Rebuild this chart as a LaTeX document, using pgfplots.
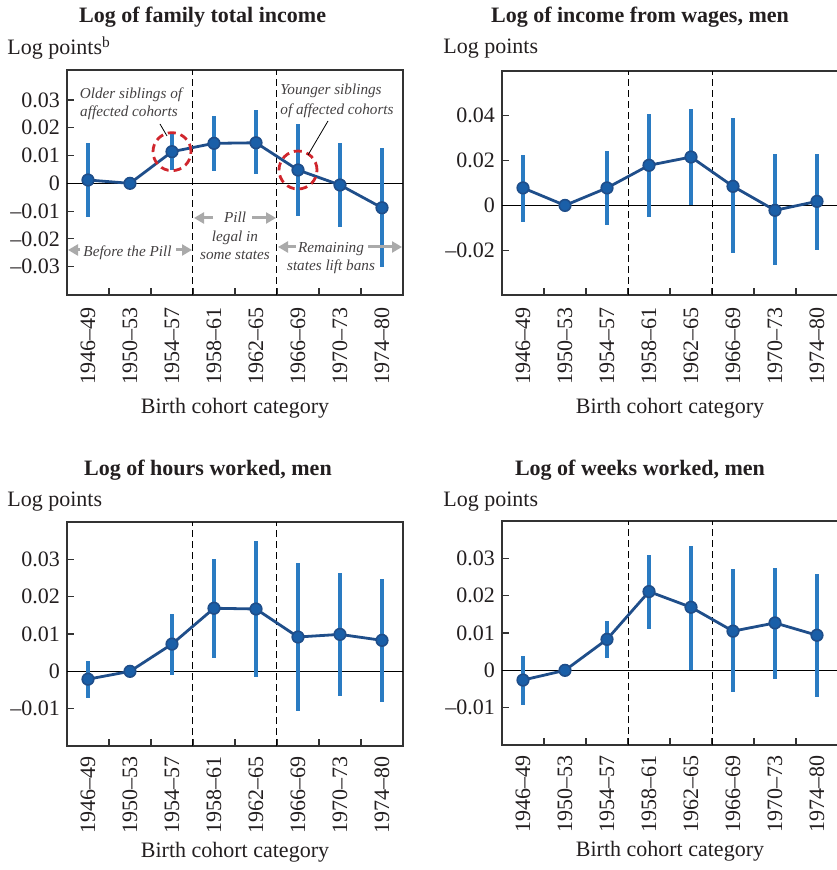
\documentclass[border=0pt]{standalone}
\usepackage{fontspec}
\setmainfont{Liberation Serif}
\usepackage{pgfplots}
\pgfplotsset{compat=1.18}
\usepackage{pgfplotstable}
\usetikzlibrary{arrows.meta}

\definecolor{lineblue}{HTML}{1F4E8A}
\definecolor{dotblue}{HTML}{1A5FA8}
\definecolor{barblue}{HTML}{2A7BC2}
\definecolor{circred}{HTML}{D0262D}
\definecolor{arrowgray}{HTML}{AAAAAA}
\definecolor{framegray}{HTML}{333333}
\definecolor{inkblack}{HTML}{231F20}

% Estimates by birth cohort: point estimate and confidence bounds
\pgfplotstableread{
x    y       lo       hi
0.5  0.0012  -0.0120  0.0144
1.5  0.0000  0.0000   0.0000
2.5  0.0114  0.0048   0.0180
3.5  0.0144  0.0044   0.0242
4.5  0.0146  0.0032   0.0264
5.5  0.0048  -0.0118  0.0213
6.5  -0.0006 -0.0156  0.0144
7.5  -0.0088 -0.0300  0.0128
}\famincome

\pgfplotstableread{
x    y       lo       hi
0.5  0.0078  -0.0072  0.0227
1.5  0.0000  0.0000   0.0000
2.5  0.0078  -0.0087  0.0245
3.5  0.0179  -0.0054  0.0410
4.5  0.0216  0.0000   0.0430
5.5  0.0085  -0.0213  0.0388
6.5  -0.0022 -0.0266  0.0231
7.5  0.0018  -0.0201  0.0231
}\wages

\pgfplotstableread{
x    y       lo       hi
0.5  -0.0021 -0.0071  0.0029
1.5  0.0000  0.0000   0.0000
2.5  0.0073  -0.0011  0.0154
3.5  0.0169  0.0036   0.0300
4.5  0.0167  -0.0015  0.0348
5.5  0.0092  -0.0106  0.0290
6.5  0.0099  -0.0067  0.0263
7.5  0.0083  -0.0083  0.0247
}\hours

\pgfplotstableread{
x    y       lo       hi
0.5  -0.0026 -0.0094  0.0038
1.5  0.0000  0.0000   0.0000
2.5  0.0083  0.0032   0.0132
3.5  0.0211  0.0111   0.0309
4.5  0.0169  0.0002   0.0333
5.5  0.0105  -0.0059  0.0272
6.5  0.0127  -0.0023  0.0275
7.5  0.0094  -0.0072  0.0259
}\weeks

\pgfplotsset{
  panel/.style={
    scale only axis, width=168pt, height=112pt, anchor=south west,
    xmin=0, xmax=8,
    scaled y ticks=false,
    xtick={0.5,1.5,2.5,3.5,4.5,5.5,6.5,7.5},
    xticklabels={1946--49,1950--53,1954--57,1958--61,1962--65,1966--69,1970--73,1974--80},
    x tick label style={rotate=90, anchor=east},
    xticklabel shift=2.5pt,
    minor xtick={1,2,3,4,5,6,7},
    major x tick style={draw=none},
    tick align=inside, tick pos=left,
    major tick length=3.5pt, minor tick length=3.5pt,
    tick style={framegray, line width=0.6pt},
    axis line style={framegray, line width=0.65pt},
    xlabel={Birth cohort category},
    xlabel style={yshift=0pt},
    every tick label/.append style={inkblack},
    every axis label/.append style={inkblack},
    clip=false,
  },
  lowpanel/.style={panel, xticklabel shift=1.5pt, xlabel style={yshift=2.5pt}},
}

% zero line and the two policy boundaries
\newcommand{\guides}{%
  \draw[black, line width=0.5pt] (axis cs:0,0) -- (axis cs:8,0);
  \draw[black, line width=0.5pt, dash pattern=on 3.5pt off 2pt]
    ({axis cs:3,0} |- {rel axis cs:0,0}) -- ({axis cs:3,0} |- {rel axis cs:0,1});
  \draw[black, line width=0.5pt, dash pattern=on 3.5pt off 2pt]
    ({axis cs:5,0} |- {rel axis cs:0,0}) -- ({axis cs:5,0} |- {rel axis cs:0,1});
}

% confidence intervals, then the connected point estimates
\newcommand{\series}[1]{%
  \addplot[only marks, mark=none,
    error bars/.cd, y dir=both, y explicit, error mark=none,
    error bar style={barblue, line width=1.6pt}]
    table[x=x, y=y, y error plus expr=\thisrow{hi}-\thisrow{y},
          y error minus expr=\thisrow{y}-\thisrow{lo}] {#1};
  \addplot[lineblue, line width=1.4pt, mark=*, mark size=2.9pt,
    mark options={fill=dotblue, draw=lineblue, line width=0.8pt}]
    table[x=x, y=y] {#1};
}

\begin{document}
\begin{tikzpicture}[font=\fontsize{11}{13}\selectfont]
% page frame: the right-hand panels run just past its edge
\useasboundingbox (0pt,0pt) rectangle (418pt,-435pt);

% ---------- Log of family total income ----------
\begin{axis}[panel, at={(33.5pt,-147.5pt)}, height=112.5pt,
  ymin=-0.0402, ymax=0.0408,
  ytick={-0.03,-0.02,-0.01,0,0.01,0.02,0.03},
  yticklabels={\textendash0.03,\textendash0.02,\textendash0.01,0,0.01,0.02,0.03}]
  \guides
  \series{\famincome}
  \draw[circred, line width=1.4pt, dash pattern=on 4pt off 2.5pt]
    (axis cs:2.5,0.0114) circle[radius=9.5pt];
  \draw[circred, line width=1.4pt, dash pattern=on 4pt off 2.5pt]
    (axis cs:5.5,0.0048) circle[radius=9.5pt];
\end{axis}

% ---------- Log of income from wages, men ----------
\begin{axis}[panel, at={(251pt,-147.5pt)},
  ymin=-0.04, ymax=0.06,
  ytick={-0.02,0,0.02,0.04},
  yticklabels={\textendash0.02,0,0.02,0.04}]
  \guides
  \series{\wages}
\end{axis}

% ---------- Log of hours worked, men ----------
\begin{axis}[lowpanel, at={(33.5pt,-373pt)},
  ymin=-0.02, ymax=0.04,
  ytick={-0.01,0,0.01,0.02,0.03},
  yticklabels={\textendash0.01,0,0.01,0.02,0.03}]
  \guides
  \series{\hours}
\end{axis}

% ---------- Log of weeks worked, men ----------
\begin{axis}[lowpanel, at={(251pt,-372.5pt)},
  ymin=-0.02, ymax=0.04,
  ytick={-0.01,0,0.01,0.02,0.03},
  yticklabels={\textendash0.01,0,0.01,0.02,0.03}]
  \guides
  \series{\weeks}
\end{axis}

% titles, units and annotations
\begin{scope}[x=0.5pt, y=-0.5pt, every node/.style={inner sep=0pt, text=inkblack}]
  \node[anchor=base, font=\fontsize{11}{13}\selectfont\bfseries] at (202.6,22.7) {Log of family total income};
  \node[anchor=base, font=\fontsize{11}{13}\selectfont\bfseries] at (640,22.7) {Log of income from wages, men};
  \node[anchor=base, font=\fontsize{11}{13}\selectfont\bfseries] at (208,475) {Log of hours worked, men};
  \node[anchor=base, font=\fontsize{11}{13}\selectfont\bfseries] at (640,475) {Log of weeks worked, men};

  \node[anchor=base west] at (7,55) {Log points\textsuperscript{b}};
  \node[anchor=base west] at (443,54) {Log points};
  \node[anchor=base west] at (7,506) {Log points};
  \node[anchor=base west] at (443,506) {Log points};

  \colorlet{notegray}{inkblack!85}
  \begin{scope}[every node/.append style={font=\fontsize{7.6}{9}\selectfont\itshape, text=notegray}]
    \node[anchor=base] at (131,98.3) {Older siblings of};
    \node[anchor=base] at (129,116.7) {affected cohorts};
    \draw[black, line width=0.4pt] (160,124) -- (167,136);

    \node[anchor=base west] at (280,95) {Younger siblings};
    \node[anchor=base west] at (280,115) {of affected cohorts};
    \draw[black, line width=0.4pt] (328,121) -- (308,155);

    \node[anchor=base] at (127.5,257) {Before the Pill};
    \node[anchor=base] at (235,223) {Pill};
    \node[anchor=base] at (235,242) {legal in};
    \node[anchor=base] at (235,259.5) {some states};
    \node[anchor=base] at (331,253) {Remaining};
    \node[anchor=base] at (331,271) {states lift bans};
  \end{scope}

  \begin{scope}[arrowgray, line width=1.5pt, -{Triangle[length=5pt,width=5.5pt]}]
    \draw (80,250) -- (68,250);
    \draw (176,250) -- (192,250);
    \draw (213,218) -- (194,218);
    \draw (252,218) -- (276,218);
    \draw (296,247) -- (278,247);
    \draw (368,247) -- (402,247);
  \end{scope}
\end{scope}
\end{tikzpicture}
\end{document}
